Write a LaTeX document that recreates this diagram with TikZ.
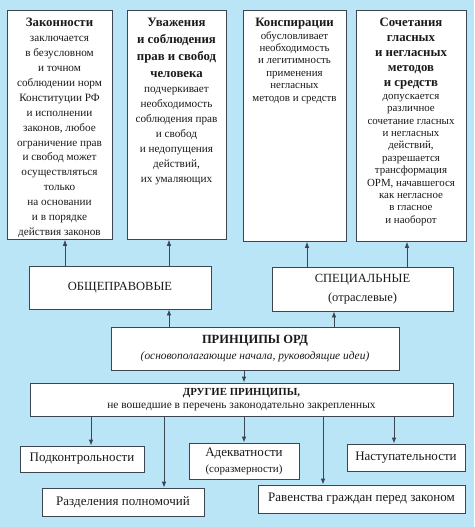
\documentclass[tikz,border=0pt]{standalone}
\usepackage{fontspec}
\setmainfont{Liberation Serif}
\usetikzlibrary{arrows.meta, positioning, calc}
\definecolor{skybg}{HTML}{B9E5F7}
\definecolor{frame}{HTML}{3C4650}
\definecolor{ink}{HTML}{1A1A1A}

% top column boxes: fixed height, text from the top
\newcommand{\colbox}[4]{\parbox[t][#2][t]{#1}{\centering\vspace*{8pt}{#3\par}{#4\par}}}
\newcommand{\ttlA}{\bfseries\fontsize{12.8}{17}\selectfont}
\newcommand{\bodyA}{\fontsize{11.2}{14.9}\selectfont}
\newcommand{\ttlB}{\bfseries\fontsize{12.8}{15}\selectfont}
\newcommand{\bodyB}{\fontsize{10.9}{12.4}\selectfont}

\begin{document}
\begin{tikzpicture}[
  x=1pt, y=-1pt,
  >={Latex[length=6pt, width=4.5pt]},
  arr/.style={->, line width=0.8pt, frame},
  box/.style={draw=frame, line width=0.8pt, fill=white, text=ink, align=center, inner sep=0pt},
  colnode/.style={box, anchor=north},
]

% Background
\fill[skybg] (0,0) rectangle (474,527);
\useasboundingbox (0,0) rectangle (474,527);

% === Row 0: four principles ===
\node[colnode, minimum width=105pt] (zak) at (59.5,10)
  {\colbox{101pt}{229pt}{\ttlA Законности}{\bodyA заключается\\в безусловном\\и точном\\соблюдении норм\\Конституции РФ\\и исполнении\\законов, любое\\ограничение прав\\и свобод может\\осуществляться\\только\\на основании\\и в порядке\\действия законов}};

\node[colnode, minimum width=99pt] (uvazh) at (176.5,10)
  {\colbox{97pt}{229pt}{\ttlA Уважения\\и соблюдения\\прав и свобод\\человека}{\bodyA подчеркивает\\необходимость\\соблюдения прав\\и свобод\\и недопущения\\действий,\\их умаляющих}};

\node[colnode, minimum width=103pt] (konsp) at (294.5,10)
  {\colbox{100pt}{231pt}{\ttlB Конспирации}{\bodyB обусловливает\\необходимость\\и легитимность\\применения\\негласных\\методов и средств}};

\node[colnode, minimum width=110pt] (sochet) at (411,10)
  {\colbox{106pt}{231pt}{\ttlB Сочетания\\гласных\\и негласных\\методов\\и средств}{\bodyB допускается\\различное\\сочетание гласных\\и негласных\\действий,\\разрешается\\трансформация\\ОРМ, начавшегося\\как негласное\\в гласное\\и наоборот}};

% === Row 1: two groups ===
\node[box, minimum width=182pt, minimum height=43pt, font=\fontsize{12.5}{16}\selectfont] (obshch) at (120,287.5)
  {ОБЩЕПРАВОВЫЕ};
\node[box, minimum width=181pt, minimum height=44pt, font=\fontsize{12.5}{19}\selectfont] (spec) at (362.5,289)
  {СПЕЦИАЛЬНЫЕ\\(отраслевые)};

\draw[arr] ([xshift=5.5pt]zak.south |- obshch.north) -- ([xshift=5.5pt]zak.south);
\draw[arr] ([xshift=-7.5pt]uvazh.south |- obshch.north) -- ([xshift=-7.5pt]uvazh.south);
\draw[arr] ([xshift=12.5pt]konsp.south |- spec.north) -- ([xshift=12.5pt]konsp.south);
\draw[arr] ([xshift=-4pt]sochet.south |- spec.north) -- ([xshift=-4pt]sochet.south);

% === Row 2: principles of ORD ===
\node[box, minimum width=288pt, minimum height=43pt] (princ) at (255,348.5)
  {{\bfseries\fontsize{12.5}{14}\selectfont ПРИНЦИПЫ ОРД}\\[4pt]{\itshape\fontsize{11.4}{12}\selectfont (основополагающие начала, руководящие идеи)}};

\draw[arr] ([xshift=49pt]obshch.south |- princ.north) -- ([xshift=49pt]obshch.south);
\draw[arr] ([xshift=-28.5pt]spec.south |- princ.north) -- ([xshift=-28.5pt]spec.south);

% === Row 3: other principles ===
\node[box, minimum width=423pt, minimum height=33pt] (drug) at (241.5,399.5)
  {{\bfseries\fontsize{10.8}{12}\selectfont ДРУГИЕ ПРИНЦИПЫ,}\\[1pt]{\fontsize{11.4}{12}\selectfont не вошедшие в перечень законодательно закрепленных}};

\draw[arr] ([xshift=2.5pt]drug.north |- princ.south) -- ([xshift=2.5pt]drug.north);

% === Row 4: leaves ===
\node[box, minimum width=124pt, minimum height=26pt, font=\fontsize{13}{15}\selectfont] (podk) at (82,459)
  {Подконтрольности};
\node[box, minimum width=162pt, minimum height=28pt, font=\fontsize{13}{15}\selectfont] (razd) at (123,502)
  {Разделения полномочий};
\node[box, minimum width=110pt, minimum height=36pt, font=\fontsize{13}{16}\selectfont] (adekv) at (244,461)
  {Адекватности\\{\fontsize{11}{13}\selectfont (соразмерности)}};
\node[box, minimum width=207pt, minimum height=28pt, font=\fontsize{13}{15}\selectfont] (raven) at (361.5,499)
  {Равенства граждан перед законом};
\node[box, minimum width=118pt, minimum height=27pt, font=\fontsize{13}{15}\selectfont] (nast) at (406,457.5)
  {Наступательности};

\draw[arr] ([xshift=9pt]podk.north |- drug.south) -- ([xshift=9pt]podk.north);
\draw[arr] ([xshift=41pt]razd.north |- drug.south) -- ([xshift=41pt]razd.north);
\draw[arr] (adekv.north |- drug.south) -- (adekv.north);
\draw[arr] ([xshift=-38.5pt]raven.north |- drug.south) -- ([xshift=-38.5pt]raven.north);
\draw[arr] ([xshift=-12pt]nast.north |- drug.south) -- ([xshift=-12pt]nast.north);

\end{tikzpicture}
\end{document}
